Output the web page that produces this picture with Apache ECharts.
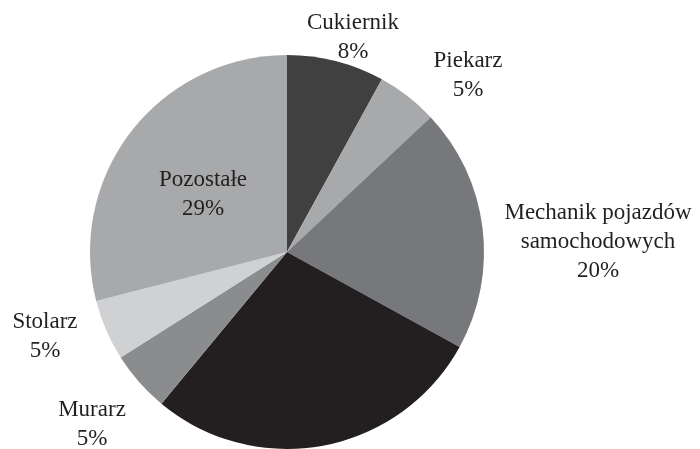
<!DOCTYPE html>
<html>
<head>
<meta charset="utf-8">
<script src="https://cdn.jsdelivr.net/npm/echarts@6/dist/echarts.min.js"></script>
<style>html,body{margin:0;padding:0;background:#fff}#c{width:700px;height:449px}</style>
</head>
<body>
<div id="c"></div>
<script>
const categories = ['Cukiernik', 'Piekarz', 'Mechanik pojazdów\nsamochodowych', '(bez etykiety)', 'Murarz', 'Stolarz', 'Pozostałe'];
const values = [8, 5, 20, 28, 5, 5, 29];
const colors = ['#404041', '#a8a9ab', '#77787b', '#231f20', '#8b8c8e', '#d0d1d3', '#a8a9ab'];
const showLabel = [true, true, true, false, true, true, true];

// label anchor positions (layout only)
const labelAnchors = [[353, 37], [468, 75], [598, 242], [0, 0], [92, 424], [45, 336], [203, 194]];

const chart = echarts.init(document.getElementById('c'), null, {renderer: 'canvas'});
chart.setOption({
  animation: false,
  series: [{
    type: 'pie',
    center: [287, 252],
    radius: 197,
    startAngle: 90,
    clockwise: true,
    label: {
      show: true,
      position: 'outside',
      formatter: p => p.name + '\n' + p.value + '%',
      fontFamily: 'Liberation Serif',
      fontSize: 23,
      lineHeight: 29,
      color: '#231f20',
      align: 'center',
      overflow: 'none'
    },
    labelLine: {show: false},
    labelLayout: function (params) {
      const a = labelAnchors[params.dataIndex];
      return {x: a[0], y: a[1], align: 'center', verticalAlign: 'middle'};
    },
    itemStyle: {borderWidth: 0},
    emphasis: {disabled: true},
    data: categories.map((n, i) => ({
      name: n,
      value: values[i],
      itemStyle: {color: colors[i]},
      label: {show: showLabel[i]}
    }))
  }]
});
</script>
</body>
</html>
